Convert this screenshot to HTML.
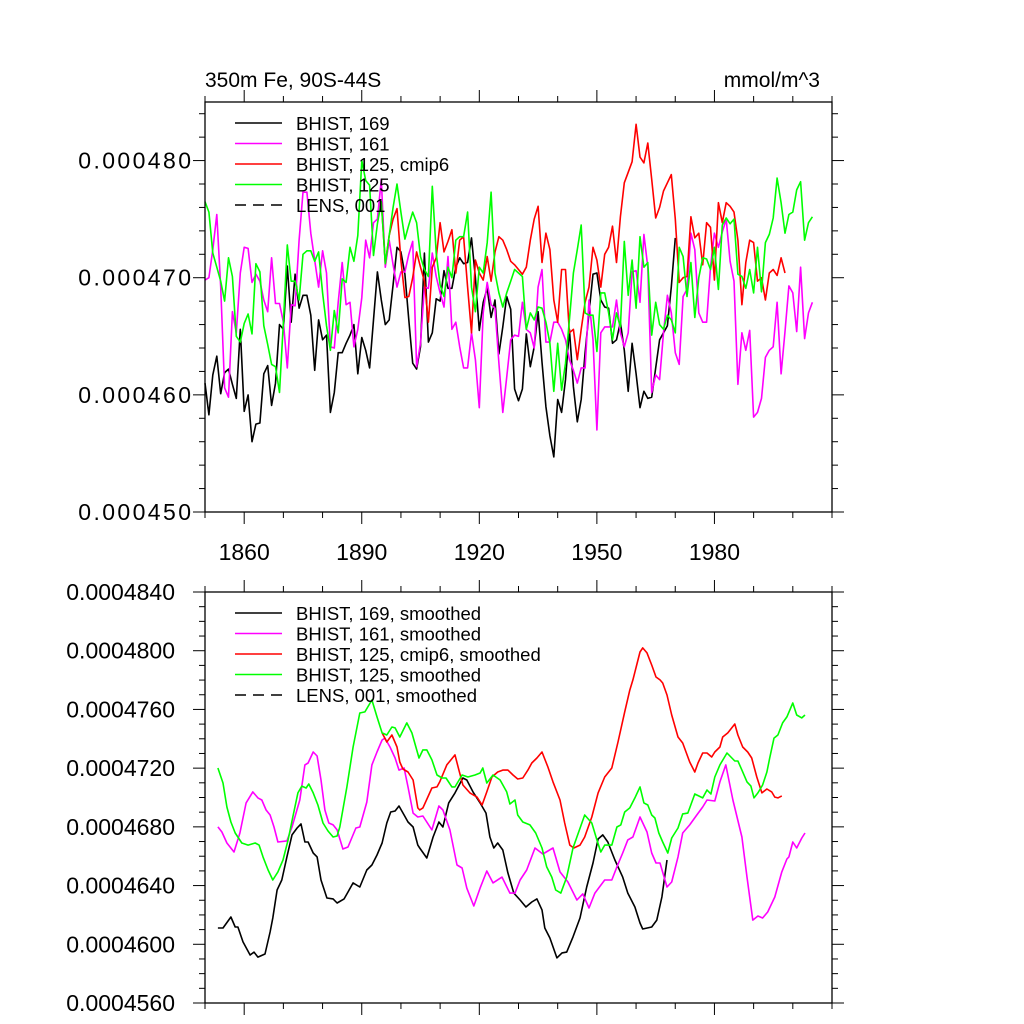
<!DOCTYPE html>
<html><head><meta charset="utf-8"><style>
html,body{margin:0;padding:0;background:#fff;}
svg{display:block;font-family:"Liberation Sans",sans-serif;}
</style></head><body>
<svg id="chart" width="1024" height="1024" viewBox="0 0 1024 1024" xmlns="http://www.w3.org/2000/svg">
<rect x="0" y="0" width="1024" height="1024" fill="#fff"/>
<text x="205" y="87" font-size="21">350m Fe, 90S-44S</text>
<text x="820" y="87" font-size="21" text-anchor="end">mmol/m^3</text>
<g id="top"></g>
<g id="bot"></g>
</svg>
<script>
// ---- data (values in units of 1e-6 mmol/m^3) ----
const rawStart = 1850;
const black169 = [461.0,458.3,461.7,463.3,460.1,461.9,462.2,460.9,459.7,465.6,458.6,460.0,456.0,457.5,457.6,461.8,462.5,459.1,461.0,466.0,465.6,471.0,466.2,470.3,467.4,468.5,468.5,466.8,462.1,466.4,464.7,465.1,458.5,460.2,463.6,463.6,464.4,465.1,466.0,461.8,464.9,463.8,462.3,466.4,470.5,468.1,466.0,466.4,469.4,472.6,472.2,470.3,466.4,462.7,462.2,464.1,472.1,464.5,465.3,468.2,468.0,470.6,469.1,469.1,470.9,471.7,471.2,471.3,473.4,470.0,465.5,467.9,469.1,466.6,468.1,463.5,465.8,468.4,467.3,460.5,459.5,460.5,465.2,462.4,464.1,467.1,462.8,459.0,456.5,454.7,459.6,458.5,461.3,465.6,460.7,457.7,459.6,463.6,467.0,470.3,470.4,468.1,467.5,467.4,464.4,464.7,466.2,463.8,460.3,464.4,461.8,458.9,460.3,459.7,459.8,462.3,464.7,465.3,465.9,469.2,473.4];
const magenta161 = [469.8,470.0,472.4,475.4,469.2,460.6,459.8,467.1,465.3,470.4,472.6,472.5,469.6,470.3,469.7,468.1,467.1,471.7,467.8,467.8,466.2,462.3,467.7,467.6,473.2,477.3,477.3,473.8,471.5,469.2,472.3,470.4,464.1,464.0,467.9,471.3,467.7,467.9,464.1,465.6,468.3,473.2,471.7,474.7,475.0,478.4,470.9,473.2,471.1,469.2,470.5,470.5,472.0,473.1,462.4,464.4,469.2,469.1,472.1,470.1,468.7,467.5,471.8,465.6,466.2,464.1,462.3,462.3,465.3,463.0,458.9,467.0,469.6,467.7,467.4,462.7,458.5,461.5,464.7,465.1,465.0,467.9,465.6,465.3,464.0,469.2,470.7,464.5,464.5,466.2,466.2,465.6,464.7,463.0,462.1,461.0,462.3,462.3,468.1,464.7,457.0,465.3,465.8,465.8,465.8,468.1,465.3,464.1,465.3,470.5,470.6,467.9,473.7,470.9,460.2,461.7,461.3,465.3,468.5,467.0,463.6,462.6,468.4,469.0,473.8,472.4,467.0,466.2,466.2,470.9,473.8,472.6,473.9,475.0,471.4,469.7,460.9,465.3,463.8,465.5,458.1,458.5,459.7,463.2,463.8,464.1,467.9,461.8,465.4,469.3,468.7,465.4,470.9,464.8,467.0,467.9];
const green125 = [476.5,475.6,472.1,470.9,469.7,468.0,471.7,470.1,465.0,464.5,466.1,466.9,465.2,471.2,470.5,465.9,464.3,462.6,462.4,460.2,466.2,472.8,469.7,469.7,468.1,472.0,472.3,472.3,471.4,472.2,468.7,465.9,463.8,467.2,465.3,469.9,469.6,472.6,471.4,473.6,480.0,478.3,477.9,471.9,474.6,476.5,471.2,473.6,476.0,478.0,475.6,473.3,474.5,475.6,474.7,471.8,470.7,470.1,477.8,472.1,469.4,468.4,470.9,470.0,473.2,473.5,473.5,475.6,469.2,467.1,470.9,470.4,473.0,477.3,470.4,468.7,467.5,468.7,469.7,470.7,470.4,470.1,465.6,467.0,466.4,467.5,467.4,466.2,464.4,460.3,464.4,460.4,462.7,466.4,470.4,472.4,474.5,467.0,466.8,466.8,463.7,468.7,468.7,467.0,464.7,467.0,465.8,473.1,468.5,471.5,467.4,473.5,470.9,471.3,465.1,467.9,466.0,465.6,466.8,466.4,465.3,472.6,471.8,468.4,471.3,466.6,470.0,471.7,471.6,470.7,472.6,469.0,474.5,475.1,474.6,475.0,470.3,470.1,469.1,470.7,468.7,472.6,468.8,473.0,473.7,475.1,478.5,476.4,473.8,475.4,475.6,477.5,478.2,473.2,474.7,475.2];
const redStart = 1895;
const red125cmip6 = [476.5,471.2,473.6,475.0,475.9,471.5,468.3,468.4,470.0,472.2,470.9,469.7,466.2,470.9,471.7,474.7,472.2,473.1,474.1,470.4,473.2,473.5,469.2,465.3,471.5,470.4,469.8,471.8,469.7,472.2,473.5,473.2,472.4,471.4,471.1,470.7,470.3,470.9,473.2,475.0,476.1,471.3,473.8,472.4,468.1,466.2,470.7,470.7,465.3,465.6,463.0,465.6,467.9,469.2,472.6,471.5,469.2,472.0,472.6,474.4,471.3,475.2,478.1,479.0,479.9,483.1,480.3,479.8,481.5,478.4,475.1,476.0,477.4,478.1,478.8,475.0,469.6,470.0,470.1,475.2,473.4,473.8,471.1,474.7,474.3,469.8,476.4,474.7,476.4,476.1,475.6,473.2,467.7,471.3,473.2,473.0,469.7,470.0,468.1,470.4,470.7,470.2,471.7,470.4];

// smoothed series: years + values
const blackSmYears = [1853.3,1854.6,1856.6,1857.7,1858.4,1859.7,1861.5,1862.5,1863.5,1865.3,1866.6,1867.3,1868.4,1869.6,1870.9,1872.2,1873.5,1874.5,1875.5,1876.3,1877.6,1878.6,1879.6,1881.1,1882.7,1883.7,1885.5,1886.5,1887.8,1889.5,1891.3,1892.6,1893.9,1895.2,1896.4,1897.4,1898.5,1899.5,1900.8,1901.8,1903.1,1904.3,1904.8,1906.6,1908.2,1909.7,1910.7,1912.2,1913.8,1915.8,1916.8,1918.4,1920.2,1921.7,1922.7,1923.7,1924.7,1926.0,1927.3,1928.8,1930.4,1931.9,1933.4,1934.7,1936.0,1936.7,1938.0,1939.8,1941.1,1942.3,1943.9,1945.7,1947.4,1949.0,1950.3,1951.5,1952.8,1954.6,1956.6,1957.9,1958.4,1959.7,1961.0,1961.7,1964.0,1965.3,1966.6,1967.9];
const blackSm = [461.11,461.11,461.86,461.18,461.18,460.16,459.27,459.47,459.13,459.34,460.84,461.79,463.70,464.38,465.95,467.45,467.92,468.20,466.97,466.97,466.22,465.95,464.38,463.15,463.09,462.81,463.09,463.56,464.18,463.90,465.06,465.40,466.08,466.90,468.26,469.01,469.08,469.42,468.81,468.33,467.99,466.76,466.56,465.88,467.31,468.33,467.99,469.63,470.31,471.33,471.19,470.38,469.63,468.94,467.31,466.56,466.90,466.42,464.86,463.49,463.02,462.54,462.88,463.09,462.34,461.11,460.43,459.07,459.41,459.47,460.50,461.79,463.90,465.54,467.17,467.45,466.97,465.74,464.58,463.49,463.22,462.54,461.45,461.04,461.18,461.65,463.22,465.74];
const magentaSmYears = [1853.3,1854.3,1855.6,1857.4,1858.9,1860.5,1862.2,1863.5,1864.5,1865.6,1866.6,1867.6,1868.6,1870.9,1872.2,1874.2,1875.5,1876.3,1877.6,1878.6,1879.6,1880.6,1881.6,1882.7,1883.7,1885.2,1886.5,1888.5,1889.5,1891.3,1892.6,1893.9,1895.2,1895.9,1897.2,1898.5,1899.5,1900.8,1901.8,1903.1,1904.3,1905.6,1907.9,1909.7,1910.7,1912.5,1914.3,1915.6,1916.8,1918.6,1920.2,1921.9,1923.5,1925.8,1927.8,1929.1,1930.4,1932.1,1934.2,1936.2,1938.8,1940.6,1942.6,1944.9,1946.4,1948.0,1949.5,1952.0,1953.8,1955.1,1956.6,1957.9,1959.2,1961.0,1962.8,1964.0,1965.1,1966.1,1967.9,1969.1,1970.7,1971.9,1973.7,1975.5,1977.0,1978.1,1980.1,1981.4,1982.9,1984.7,1987.0,1988.3,1989.8,1991.1,1992.3,1993.6,1995.4,1997.2,1998.5,1999.0,2000.0,2001.0,2002.3,2003.1];
const magentaSm = [468.0,467.65,466.9,466.29,467.58,469.63,470.38,469.97,469.83,469.15,468.81,467.99,466.97,467.04,467.99,469.83,472.22,472.35,473.10,472.83,471.19,469.15,468.26,468.13,467.79,466.49,466.63,467.92,467.99,469.69,472.22,473.10,473.92,474.05,473.44,472.69,471.87,472.01,470.72,468.94,468.67,468.74,467.79,469.42,469.15,467.79,465.40,465.20,463.83,462.61,463.83,464.99,464.18,464.58,463.49,463.49,464.38,465.06,466.56,466.15,466.56,464.93,464.24,463.02,463.43,462.47,463.49,464.38,464.38,465.27,466.22,467.11,467.31,468.67,467.65,466.22,465.54,465.54,463.90,464.24,465.95,467.58,468.13,468.81,469.35,469.83,469.76,471.06,472.22,469.83,467.31,464.58,461.65,461.93,461.79,462.20,463.22,464.93,465.81,465.95,466.97,466.56,467.24,467.58];
const redSmYears = [1895.2,1896.4,1897.7,1899.0,1899.7,1900.5,1901.8,1903.1,1904.3,1904.8,1905.6,1907.9,1909.2,1909.9,1911.7,1913.8,1914.8,1915.8,1917.6,1919.4,1920.7,1921.9,1923.2,1924.7,1926.0,1927.3,1928.6,1929.8,1931.1,1932.4,1933.4,1934.7,1936.0,1937.5,1938.8,1940.6,1941.8,1943.1,1944.1,1945.7,1946.9,1948.7,1950.3,1952.0,1953.8,1955.4,1957.1,1958.4,1959.2,1961.0,1961.7,1962.8,1964.0,1965.1,1966.1,1966.8,1967.9,1969.1,1970.7,1971.9,1973.7,1975.0,1975.8,1977.0,1978.1,1979.3,1980.1,1981.4,1982.1,1983.4,1985.2,1986.0,1987.2,1988.5,1989.5,1990.8,1992.1,1993.4,1994.6,1995.4,1996.2,1997.2];
const redSm = [474.40,473.78,474.26,473.44,472.42,471.94,471.74,471.19,469.29,469.15,469.29,470.65,470.72,471.06,472.22,472.90,471.87,470.85,470.31,470.03,469.49,470.38,471.40,471.74,471.87,471.87,471.53,471.26,471.33,471.87,472.35,472.69,473.10,472.08,471.06,469.83,468.26,466.76,466.56,466.76,467.31,468.67,470.31,471.40,472.01,473.78,475.83,477.32,478.01,479.91,480.19,479.85,479.03,478.21,478.01,477.80,476.98,475.62,474.12,473.71,472.42,471.74,472.35,473.03,473.03,472.76,473.10,473.44,474.12,474.40,475.01,474.26,473.44,473.10,472.69,471.40,470.31,470.58,470.38,470.03,469.97,470.11];
const greenSmYears = [1853.3,1854.6,1855.6,1856.6,1857.7,1859.4,1861.0,1862.8,1863.8,1864.8,1866.1,1867.3,1868.6,1869.9,1871.2,1872.4,1873.7,1874.7,1875.8,1876.5,1877.6,1878.8,1880.1,1881.4,1882.7,1883.7,1884.4,1886.2,1887.8,1889.5,1890.8,1892.6,1893.9,1895.2,1896.4,1897.7,1898.5,1899.7,1901.5,1902.8,1904.6,1905.6,1906.6,1907.9,1909.2,1910.5,1911.5,1913.0,1913.8,1915.6,1917.1,1918.9,1920.2,1920.9,1921.9,1923.5,1925.3,1927.0,1927.8,1929.1,1929.8,1931.1,1932.9,1934.4,1936.0,1937.2,1938.5,1939.5,1940.8,1942.3,1943.9,1944.9,1946.9,1948.7,1950.0,1951.0,1952.0,1953.8,1955.1,1956.1,1957.1,1958.4,1959.7,1961.0,1962.0,1963.0,1964.0,1964.8,1965.8,1966.8,1968.1,1969.1,1970.7,1971.9,1973.2,1975.0,1977.0,1978.1,1979.1,1980.1,1981.4,1983.2,1985.2,1986.0,1987.0,1988.3,1989.3,1990.1,1991.1,1992.3,1993.4,1994.1,1995.2,1996.2,1997.4,1998.5,2000.0,2001.0,2002.3,2003.1];
const greenSm = [472.01,470.99,469.35,468.33,467.58,466.90,466.76,466.90,466.76,465.95,465.06,464.38,464.93,465.74,467.11,468.67,470.31,470.78,470.65,470.92,470.31,469.49,468.26,467.72,467.31,467.38,467.99,470.72,473.44,475.76,475.83,476.64,475.49,474.40,474.26,474.80,474.74,474.12,475.08,474.40,472.69,473.24,473.24,472.56,471.53,471.33,471.33,470.72,470.72,471.53,471.40,471.53,471.67,472.01,470.99,471.53,471.19,470.38,469.56,469.83,468.81,468.33,468.13,467.58,466.56,465.27,464.58,463.70,463.49,464.58,466.56,467.31,468.81,468.26,467.11,466.29,466.76,466.76,467.99,468.13,469.01,469.29,469.97,470.72,469.63,469.49,468.81,468.60,467.58,466.97,466.22,467.24,467.92,468.88,468.94,470.24,469.97,470.51,470.24,471.40,472.22,473.03,472.49,472.49,471.87,471.06,470.78,469.97,470.31,470.85,471.74,472.69,474.05,474.26,475.08,475.49,476.44,475.62,475.42,475.62];

const xMajorTicks = [1860,1890,1920,1950,1980];
const topYMajor = [450,460,470,480];
const botYMajor = [456,460,464,468,472,476,480,484];
const legendTop = ["BHIST, 169","BHIST, 161","BHIST, 125, cmip6","BHIST, 125","LENS, 001"];
const legendBot = ["BHIST, 169, smoothed","BHIST, 161, smoothed","BHIST, 125, cmip6, smoothed","BHIST, 125, smoothed","LENS, 001, smoothed"];

// ---- layout ----
const NS = "http://www.w3.org/2000/svg";
const X0 = 205, X1 = 832, XMIN = 1850, XMAX = 2010;
const xs = yr => X0 + (yr - XMIN) / (XMAX - XMIN) * (X1 - X0);
const topP = {y0:102, y1:512, vmin:450, vmax:485};
const botP = {y0:592, y1:1003, vmin:456, vmax:484};
const ys = (p, v) => p.y1 - (v - p.vmin) / (p.vmax - p.vmin) * (p.y1 - p.y0);
const colors = ["#000000","#ff00ff","#ff0000","#00ff00"];
function mk(tag, attrs, parent){ const e=document.createElementNS(NS,tag); for(const k in attrs) e.setAttribute(k,attrs[k]); parent.appendChild(e); return e; }

function axes(g, p, yMajor, yMinorStep, fmt, labelRight, showXLabels, spacing){
  const fr = mk('rect',{x:X0,y:p.y0,width:X1-X0,height:p.y1-p.y0,fill:'none',stroke:'#000','stroke-width':1.3},g);
  
  
  for(let yr=XMIN; yr<=XMAX; yr+=10){
    const major = xMajorTicks.includes(yr);
    const L = major?12:6, x=xs(yr);
    const t1 = mk('line',{x1:x,x2:x,y1:p.y1,y2:p.y1+L,stroke:'#000','stroke-width':1},g);
    
    
    const t2 = mk('line',{x1:x,x2:x,y1:p.y0,y2:p.y0-L,stroke:'#000','stroke-width':1},g);
    
    
  }
  if(showXLabels){
    xMajorTicks.forEach(yr=>{
      const t = mk('text',{x:xs(yr),y:p.y1+48,'font-size':23,'text-anchor':'middle'},g);
      t.textContent = String(yr);
      
      
    });
  }
  for(let v=p.vmin; v<=p.vmax+1e-9; v+=yMinorStep){
    const vv = Math.round(v*1000)/1000;
    const major = yMajor.some(m=>Math.abs(m-vv)<1e-6);
    const L = major?12:6, y=ys(p,vv);
    const a = mk('line',{x1:X0-L,x2:X0,y1:y,y2:y,stroke:'#000','stroke-width':1},g);
    
    
    const b = mk('line',{x1:X1,x2:X1+L,y1:y,y2:y,stroke:'#000','stroke-width':1},g);
    
    
  }
  yMajor.forEach(v=>{
    const t = mk('text',{x:labelRight+spacing,y:ys(p,v)+8,'font-size':23,'text-anchor':'end','letter-spacing':spacing},g);
    t.textContent = fmt(v);
    
    
  });
}

function series(g, p, yrs, vals, color, name){
  const d = vals.map((v,i)=>(i?'L':'M')+xs(yrs[i]).toFixed(1)+','+ys(p,v).toFixed(1)).join(' ');
  const path = mk('path',{d:d,fill:'none',stroke:color,'stroke-width':1.6,'stroke-linejoin':'round'},g);
  
  
}
const yrsFrom = (start, arr) => arr.map((_,i)=>start+i);

function legend(g, labels, yTop){
  labels.forEach((lab,i)=>{
    const y = yTop + i*20.5;
    const ln = mk('line',{x1:235,x2:282,y1:y,y2:y,stroke:i<4?colors[i]:'#000','stroke-width':1.6},g);
    if(i===4) ln.setAttribute('stroke-dasharray','11,7');
    
    
    const t = mk('text',{x:296,y:y+7,'font-size':18.5},g);
    t.textContent = lab;
    
    
  });
}

const gt = document.getElementById('top');
const gb = document.getElementById('bot');
series(gt, topP, yrsFrom(rawStart,black169), black169, colors[0], 'series-bhist-169');
series(gt, topP, yrsFrom(rawStart,magenta161), magenta161, colors[1], 'series-bhist-161');
series(gt, topP, yrsFrom(redStart,red125cmip6), red125cmip6, colors[2], 'series-bhist-125-cmip6');
series(gt, topP, yrsFrom(rawStart,green125), green125, colors[3], 'series-bhist-125');
axes(gt, topP, topYMajor, 2, v=>(v/1e6).toFixed(6), 191, true, 2.4);
legend(gt, legendTop, 123);

series(gb, botP, blackSmYears, blackSm, colors[0], 'series-bhist-169-smoothed');
series(gb, botP, magentaSmYears, magentaSm, colors[1], 'series-bhist-161-smoothed');
series(gb, botP, redSmYears, redSm, colors[2], 'series-bhist-125-cmip6-smoothed');
series(gb, botP, greenSmYears, greenSm, colors[3], 'series-bhist-125-smoothed');
axes(gb, botP, botYMajor, 1, v=>(v/1e6).toFixed(7), 175, false, 0);
legend(gb, legendBot, 613);
</script>
</body></html>
